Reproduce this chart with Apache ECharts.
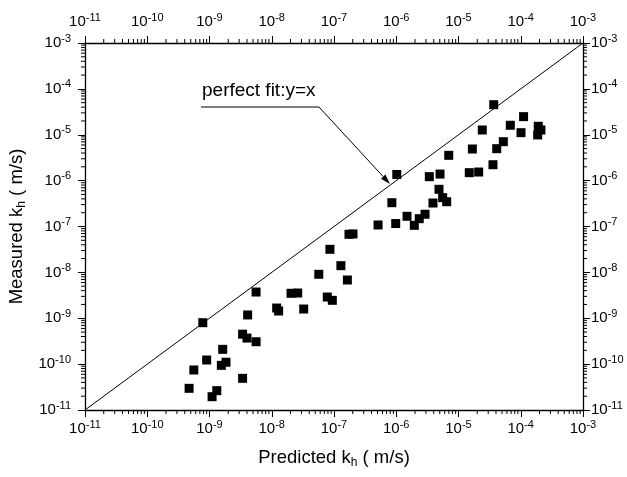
<!DOCTYPE html>
<html>
<head>
<meta charset="utf-8">
<script src="https://cdn.jsdelivr.net/npm/echarts@6/dist/echarts.min.js"></script>
<style>
html,body{margin:0;padding:0;background:#fff;}
#c{width:627px;height:477px;}
</style>
</head>
<body>
<div id="c"></div>
<script>
// ---- data ----
var predicted = [
  7.8e-10, 5.6e-9, 4.1e-9, 3.4e-9, 4.0e-9, 5.6e-9, 1.63e-9, 9.0e-10, 1.84e-9, 1.55e-9,
  5.6e-10, 3.4e-9, 4.7e-10, 1.31e-9, 1.10e-9,
  8.5e-7, 5.1e-7, 9.8e-7, 1.74e-7, 2.02e-7, 8.6e-8, 1.29e-7, 5.7e-8, 1.64e-7,
  2.04e-8, 2.61e-8, 7.8e-8, 9.4e-8, 1.2e-8, 1.29e-8, 3.26e-8,
  3.68e-5, 1.11e-4, 6.8e-5, 1.91e-4, 2.11e-4, 1.87e-4, 1.01e-4, 2.41e-5, 5.25e-5, 4.11e-5,
  1.67e-5, 6.97e-6, 3.58e-5, 1.49e-5, 2.11e-5, 1.02e-6, 3.4e-6, 5.05e-6, 4.86e-6, 5.57e-6,
  6.46e-6, 3.89e-6, 2.9e-6, 2.34e-6, 1.49e-6, 1.95e-6
];
var measured = [
  8.0e-10, 3.73e-9, 1.18e-9, 4.5e-10, 3.7e-10, 3.08e-10, 2.1e-10, 1.23e-10, 1.1e-10, 9.4e-11,
  7.45e-11, 4.9e-11, 2.97e-11, 2.64e-11, 1.95e-11,
  3.3e-7, 1.08e-7, 1.16e-7, 6.76e-8, 6.87e-8, 3.18e-8, 1.4e-8, 9.08e-9, 6.82e-9,
  3.5e-9, 3.55e-9, 2.9e-9, 2.46e-9, 1.67e-9, 1.44e-9, 1.59e-9,
  4.52e-5, 2.48e-5, 1.61e-5, 1.53e-5, 1.27e-5, 9.9e-6, 1.11e-5, 1.27e-5, 7.06e-6, 4.97e-6,
  4.89e-6, 3.56e-6, 2.22e-6, 1.49e-6, 1.54e-6, 1.36e-6, 1.22e-6, 1.39e-6, 6.47e-7, 4.25e-7,
  3.47e-7, 3.25e-7, 1.85e-7, 1.48e-7, 1.67e-7, 1.06e-7
];
var fitLineX = [1e-11, 1e-3];
var fitLineY = [1e-11, 1e-3];
var axisMin = 1e-11, axisMax = 1e-3;
var minorMultipliers = [2, 3, 4, 5, 6, 7, 8, 9];
var decadeExponents = [-11, -10, -9, -8, -7, -6, -5, -4];
var annotationText = 'perfect fit:y=x';
var xTitle = ['Predicted k', 'h', ' ( m/s)'];
var yTitle = ['Measured k', 'h', ' ( m/s)'];

// ---- build ----
var points = predicted.map(function (p, i) { return [p, measured[i]]; });
var fitLine = fitLineX.map(function (x, i) { return [x, fitLineY[i]]; });
var minorVals = [];
decadeExponents.forEach(function (e) {
  minorMultipliers.forEach(function (m) { minorVals.push(m * Math.pow(10, e)); });
});
var GEO = 'Liberation Sans, Arial, sans-serif';
var labelRich = {
  b: { fontSize: 15, fontFamily: GEO, color: '#000' },
  s: { fontSize: 11, fontFamily: GEO, color: '#000', padding: [0, 0, 9, 0] }
};
function fmt(v) {
  var e = Math.round(Math.log(v) / Math.LN10);
  return '{b|10}{s|' + e + '}';
}
var nameRich = {
  n: { fontSize: 18.5, fontFamily: GEO, color: '#000' },
  sub: { fontSize: 12, fontFamily: GEO, color: '#000', padding: [10, 0, 0, 0] }
};
function mkAxis(pos, margin, name, nameGap) {
  return {
    type: 'log', logBase: 10, min: axisMin, max: axisMax, position: pos, splitNumber: 8,
    axisLine: { show: true, onZero: false, lineStyle: { color: '#000', width: 1.3 } },
    axisTick: { show: true, inside: false, length: 7, lineStyle: { color: '#000', width: 1 } },
    minorTick: { show: false },
    splitLine: { show: false },
    axisLabel: { show: true, margin: margin, formatter: fmt, rich: labelRich },
    name: name || '',
    nameLocation: 'middle',
    nameGap: nameGap || 0,
    nameTextStyle: { rich: nameRich }
  };
}
function titleStr(t) { return '{n|' + t[0] + '}{sub|' + t[1] + '}{n|' + t[2] + '}'; }

var tipX = 390, tipY = 184, startX = 319, startY = 107;
var dx = tipX - startX, dy = tipY - startY, L = Math.sqrt(dx * dx + dy * dy);
var ux = dx / L, uy = dy / L;
var headLen = 10, headW = 3;
var bx = tipX - ux * headLen, by = tipY - uy * headLen;

var chart = echarts.init(document.getElementById('c'), null, { renderer: 'canvas' });
chart.setOption({
  backgroundColor: '#fff',
  animation: false,
  grid: { left: 85, right: 44, top: 43, bottom: 67, containLabel: false, outerBoundsMode: 'none' },
  xAxis: [mkAxis('bottom', 9, titleStr(xTitle), 37), mkAxis('top', 11)],
  yAxis: [mkAxis('left', 14, titleStr(yTitle), 52), mkAxis('right', 8)],
  series: [
    {
      type: 'line', data: fitLine, xAxisIndex: 0, yAxisIndex: 0, symbol: 'none',
      lineStyle: { color: '#000', width: 1 }, silent: true
    },
    {
      type: 'scatter', data: points, xAxisIndex: 0, yAxisIndex: 0, symbol: 'rect', symbolSize: 9,
      itemStyle: { color: '#000', opacity: 1 }, silent: true
    },
    {
      type: 'custom', xAxisIndex: 0, yAxisIndex: 0, silent: true, clip: false,
      data: minorVals.map(function (v) { return [v, 1e-7]; }),
      renderItem: function (params, api) {
        var v = api.value(0);
        var b = api.coord([v, axisMin]), t = api.coord([v, axisMax]);
        var st = { stroke: '#000', lineWidth: 1 };
        return { type: 'group', children: [
          { type: 'line', shape: { x1: b[0], y1: b[1], x2: b[0], y2: b[1] + 4 }, style: st },
          { type: 'line', shape: { x1: t[0], y1: t[1], x2: t[0], y2: t[1] - 4 }, style: st }
        ] };
      }
    },
    {
      type: 'custom', xAxisIndex: 0, yAxisIndex: 0, silent: true, clip: false,
      data: minorVals.map(function (v) { return [1e-7, v]; }),
      renderItem: function (params, api) {
        var v = api.value(1);
        var l = api.coord([axisMin, v]), r = api.coord([axisMax, v]);
        var st = { stroke: '#000', lineWidth: 1 };
        return { type: 'group', children: [
          { type: 'line', shape: { x1: l[0], y1: l[1], x2: l[0] - 4, y2: l[1] }, style: st },
          { type: 'line', shape: { x1: r[0], y1: r[1], x2: r[0] + 4, y2: r[1] }, style: st }
        ] };
      }
    }
  ],
  graphic: [
    { type: 'text', left: 202, top: 81, style: { text: annotationText, font: '19px Liberation Sans, Arial, sans-serif', fill: '#000' } },
    { type: 'line', shape: { x1: 201, y1: 107, x2: startX, y2: startY }, style: { stroke: '#000', lineWidth: 1 } },
    { type: 'line', shape: { x1: startX, y1: startY, x2: bx, y2: by }, style: { stroke: '#000', lineWidth: 1 } },
    { type: 'polygon', shape: { points: [[tipX, tipY], [bx - uy * headW, by + ux * headW], [bx + uy * headW, by - ux * headW]] }, style: { fill: '#000' } }
  ]
});
</script>
</body>
</html>
